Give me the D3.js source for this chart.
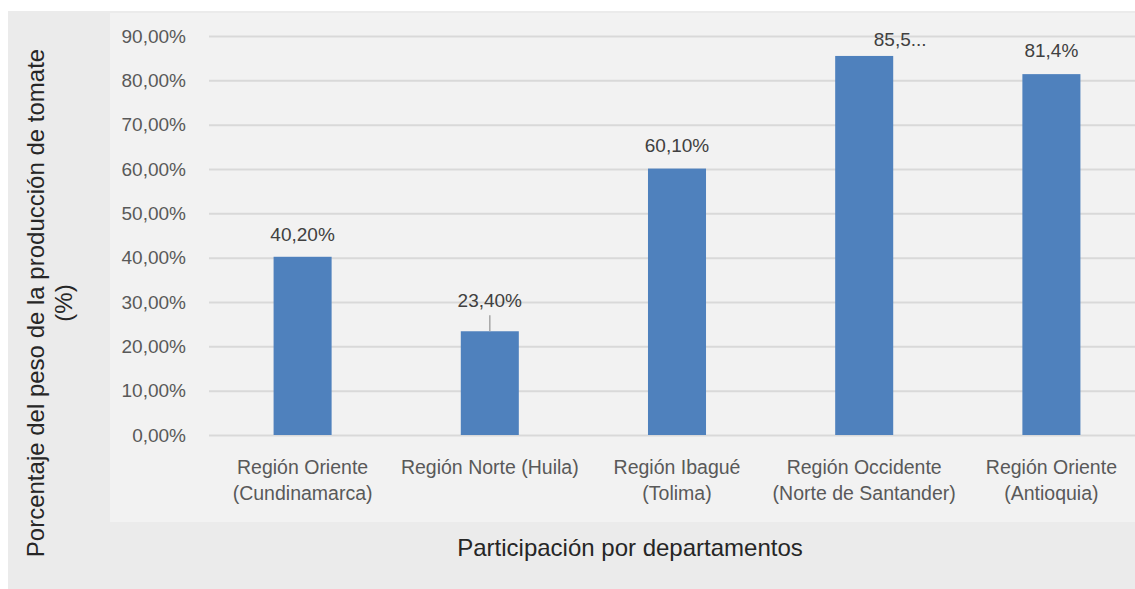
<!DOCTYPE html>
<html>
<head>
<meta charset="utf-8">
<script src="https://cdn.jsdelivr.net/npm/d3@7"></script>
<style>
  body { margin: 0; background: #fff; }
  text { font-family: "Liberation Sans", Arial, sans-serif; }
</style>
</head>
<body>
<div id="chart"></div>
<script>
const categories = [
    ["Región Oriente", "(Cundinamarca)"],
    ["Región Norte (Huila)"],
    ["Región Ibagué", "(Tolima)"],
    ["Región Occidente", "(Norte de Santander)"],
    ["Región Oriente", "(Antioquia)"]
];
const values = [40.2, 23.4, 60.1, 85.5, 81.4];
const valueLabels = ["40,20%", "23,40%", "60,10%", "85,5...", "81,4%"];
const yTicks = [0, 10, 20, 30, 40, 50, 60, 70, 80, 90];

const width = 1135;
const height = 589;

// where the plot sits inside the picture
const plot = { left: 209, right: 1145, top: 36, bottom: 435 };

// label tweaks copied from the original layout (index -> dx, dy above bar top)
const labelShift = { 0: [0, 22], 1: [0, 31], 2: [0, 23], 3: [36, 16], 4: [0, 24] };

const svg = d3.select("#chart")
    .append("svg")
    .attr("width", width)
    .attr("height", height);

// backgrounds
svg.append("rect")
    .attr("x", 8).attr("y", 11)
    .attr("width", width - 8).attr("height", height - 11)
    .attr("fill", "#ebebeb");

svg.append("rect")
    .attr("x", 110).attr("y", 13)
    .attr("width", width - 110).attr("height", 522 - 13)
    .attr("fill", "#f2f2f2");

// scales
const x = d3.scaleBand()
    .domain(d3.range(categories.length))
    .range([plot.left, plot.right])
    .paddingInner(0.69)
    .paddingOuter(0.345);

const y = d3.scaleLinear()
    .domain([0, 90])
    .range([plot.bottom, plot.top]);

// grid + y axis
const gY = svg.append("g")
    .attr("transform", `translate(${plot.left}, 0)`)
    .call(d3.axisLeft(y)
        .tickValues(yTicks)
        .tickSize(-(plot.right - plot.left))
        .tickPadding(23)
        .tickFormat(d => d3.format(".2f")(d).replace(".", ",") + "%"));

gY.select(".domain").remove();
gY.selectAll(".tick line")
    .attr("stroke", "#d9d9d9")
    .attr("stroke-width", 2);
gY.selectAll(".tick text")
    .attr("fill", "#595959")
    .style("font-size", "19px");

// bars
svg.append("g")
    .selectAll("rect")
    .data(values)
    .enter()
    .append("rect")
    .attr("x", (d, i) => x(i))
    .attr("y", d => y(d))
    .attr("width", x.bandwidth())
    .attr("height", d => y(0) - y(d))
    .attr("fill", "#4f81bd");

// leader line for the small bar
svg.append("line")
    .attr("x1", x(1) + x.bandwidth() / 2)
    .attr("x2", x(1) + x.bandwidth() / 2)
    .attr("y1", y(values[1]) - 16)
    .attr("y2", y(values[1]))
    .attr("stroke", "#a6a6a6")
    .attr("stroke-width", 1.5);

// value labels
svg.append("g")
    .selectAll("text")
    .data(values)
    .enter()
    .append("text")
    .attr("x", (d, i) => x(i) + x.bandwidth() / 2 + labelShift[i][0])
    .attr("y", (d, i) => y(d) - labelShift[i][1])
    .attr("text-anchor", "middle")
    .attr("dominant-baseline", "central")
    .attr("fill", "#404040")
    .style("font-size", "19px")
    .text((d, i) => valueLabels[i]);

// category labels
const cat = svg.append("g")
    .selectAll("text")
    .data(categories)
    .enter()
    .append("text")
    .attr("x", (d, i) => x(i) + x.bandwidth() / 2)
    .attr("y", 474)
    .attr("text-anchor", "middle")
    .attr("fill", "#595959")
    .style("font-size", "19.5px");

cat.selectAll("tspan")
    .data(d => d)
    .enter()
    .append("tspan")
    .attr("x", function () { return d3.select(this.parentNode).attr("x"); })
    .attr("dy", (d, i) => i === 0 ? 0 : 26)
    .text(d => d);

// axis titles
svg.append("text")
    .attr("x", 630)
    .attr("y", 556)
    .attr("text-anchor", "middle")
    .attr("fill", "#262626")
    .style("font-size", "24px")
    .text("Participación por departamentos");

const yTitle = svg.append("g")
    .attr("transform", "translate(35, 303) rotate(-90)");

yTitle.append("text")
    .attr("text-anchor", "middle")
    .attr("dominant-baseline", "central")
    .attr("fill", "#262626")
    .style("font-size", "24px")
    .text("Porcentaje del peso de la producción de tomate");

yTitle.append("text")
    .attr("y", 28)
    .attr("text-anchor", "middle")
    .attr("dominant-baseline", "central")
    .attr("fill", "#262626")
    .style("font-size", "24px")
    .text("(%)");
</script>
</body>
</html>
